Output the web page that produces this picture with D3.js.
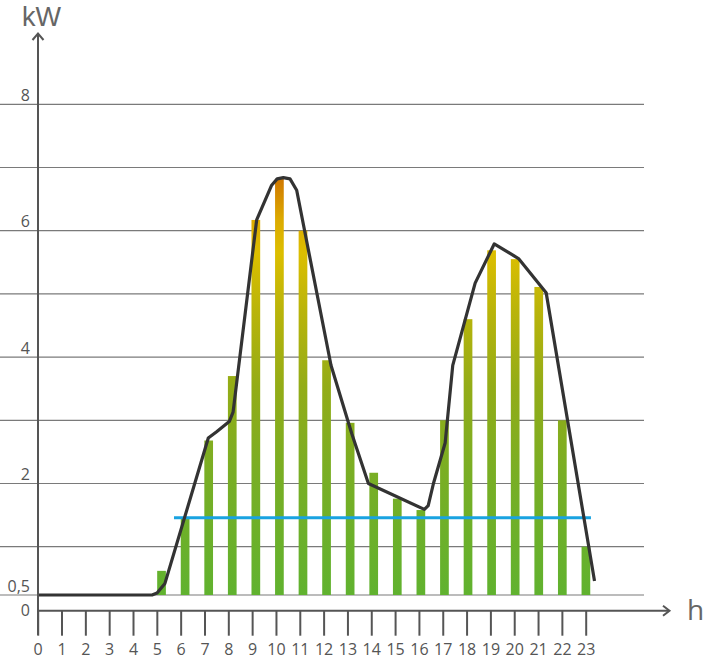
<!DOCTYPE html>
<html>
<head>
<meta charset="utf-8">
<script src="https://cdn.jsdelivr.net/npm/d3@7"></script>
<style>
html,body{margin:0;padding:0;background:#fff;}
svg{display:block;font-family:"Open Sans","DejaVu Sans",sans-serif;}
</style>
</head>
<body>
<svg id="c" width="704" height="660"></svg>
<script>
// ---- data ----
const hourLabels = ["0","1","2","3","4","5","6","7","8","9","10","11","12","13","14","15","16","17","18","19","20","21","22","23"];
const barHours  = [5,6,7,8,9,10,11,12,13,14,15,16,17,18,19,20,21,22,23];
const barValues = [0.75,1.46,2.68,3.70,6.17,6.82,6.0,3.95,2.96,2.17,1.76,1.58,3.0,4.6,5.69,5.55,5.11,3.0,1.0];
const gridValues = [0.5,1,2,3,4,5,6,7,8];
const yTickValues = [8,6,4,2,0.5,0];
const yTickLabels = ["8","6","4","2","0,5","0"];
const loadHours = [0,4.8,5.01,5.34,7.16,7.51,8.04,8.2,9.19,9.82,10.05,10.31,10.59,10.87,12.31,13.18,13.88,16.23,16.39,16.61,17.1,17.42,18.36,19.16,20.18,21.34,23.37];
const loadKW    = [0.5,0.5,0.52,0.62,2.72,2.82,2.98,3.13,6.17,6.72,6.82,6.84,6.82,6.64,3.87,2.79,2.0,1.59,1.65,2.0,2.64,3.87,5.17,5.79,5.56,5.02,0.645];
const avgHours = [5.72,23.22];
const avgKW = 1.46;

// ---- scales ----
const x = d3.scaleLinear().domain([0,23]).range([37.7,585.7]);
const xb = d3.scaleLinear().domain([0,23]).range([43.65,585.9]);
const y = d3.scaleLinear().domain([0,0.5,1,8]).range([610.7,595,546.7,104.3]);
const barW = 8.7;

const svg = d3.select("#c");
const defs = svg.append("defs");
const grad = defs.append("linearGradient").attr("id","barGrad")
  .attr("gradientUnits","userSpaceOnUse").attr("x1",0).attr("x2",0)
  .attr("y1",y(0.5)).attr("y2",y(6.84));
[[0,"#60b22f"],[0.3,"#7aae24"],[0.5,"#93ac17"],[0.68,"#b9b40a"],[0.82,"#dcbe00"],[0.9,"#dcaa00"],[1,"#cf7600"]]
  .forEach(([o,c])=>grad.append("stop").attr("offset",o).attr("stop-color",c));

// gridlines
svg.append("g").selectAll("line").data(gridValues).join("line")
  .attr("x1",0).attr("x2",644)
  .attr("y1",d=>y(d)).attr("y2",d=>y(d))
  .attr("stroke","#7a7a7a").attr("stroke-width",1.2);

// bars
svg.append("g").selectAll("rect").data(barHours).join("rect")
  .attr("x",(d)=>xb(d)-barW/2)
  .attr("width",barW)
  .attr("y",(d,i)=>y(barValues[i]))
  .attr("height",(d,i)=>y(0.5)-y(barValues[i]))
  .attr("fill","url(#barGrad)");

// average line
svg.append("line")
  .attr("x1",x(avgHours[0])).attr("x2",x(avgHours[1]))
  .attr("y1",y(avgKW)).attr("y2",y(avgKW))
  .attr("stroke","#19a3e1").attr("stroke-width",3);

// load curve
const pts = loadHours.map((h,i)=>[h,loadKW[i]]);
svg.append("path").datum(pts)
  .attr("d",d3.line().x(d=>x(d[0])).y(d=>y(d[1])).curve(d3.curveLinear))
  .attr("fill","none").attr("stroke","#333").attr("stroke-width",3.2)
  .attr("stroke-linejoin","round").attr("stroke-linecap","butt");

// axes
const axisColor = "#555";
const xAxis = d3.axisBottom(x).tickValues(d3.range(24)).tickFormat((d)=>hourLabels[d]).tickSize(25).tickPadding(8);
const gx = svg.append("g").attr("transform",`translate(0,${y(0)})`).call(xAxis);
gx.select(".domain").remove();
gx.selectAll(".tick line").attr("stroke",axisColor).attr("stroke-width",2);
gx.selectAll(".tick text").attr("fill","#555").attr("font-size",16).attr("font-family","Open Sans");

const yAxis = d3.axisLeft(y).tickValues(yTickValues).tickFormat((d,i)=>yTickLabels[i]).tickSize(0).tickPadding(8);
const gy = svg.append("g").attr("transform","translate(38,0)").call(yAxis);
gy.select(".domain").remove();
gy.selectAll(".tick text").attr("fill","#555").attr("font-size",16).attr("font-family","Open Sans")
  .attr("dy",(d)=> d===0 ? "0.32em" : "-0.24em");

// axis lines with arrows
svg.append("line").attr("x1",38).attr("x2",38).attr("y1",33).attr("y2",635)
  .attr("stroke",axisColor).attr("stroke-width",2);
svg.append("path").attr("d","M32.5,40 L38,33.5 L43.5,40").attr("fill","none")
  .attr("stroke",axisColor).attr("stroke-width",2);
svg.append("line").attr("x1",37).attr("x2",669).attr("y1",y(0)).attr("y2",y(0))
  .attr("stroke",axisColor).attr("stroke-width",2);
svg.append("path").attr("d",`M663,${y(0)-5} L669.5,${y(0)} L663,${y(0)+5}`).attr("fill","none")
  .attr("stroke",axisColor).attr("stroke-width",2);

// unit labels
svg.append("text").attr("x",22).attr("y",25.5).text("kW")
  .attr("font-size",27).attr("font-family","Liberation Sans").attr("fill","#666");
svg.append("text").attr("x",687).attr("y",620).text("h")
  .attr("font-size",28).attr("fill","#666");
</script>
</body>
</html>
